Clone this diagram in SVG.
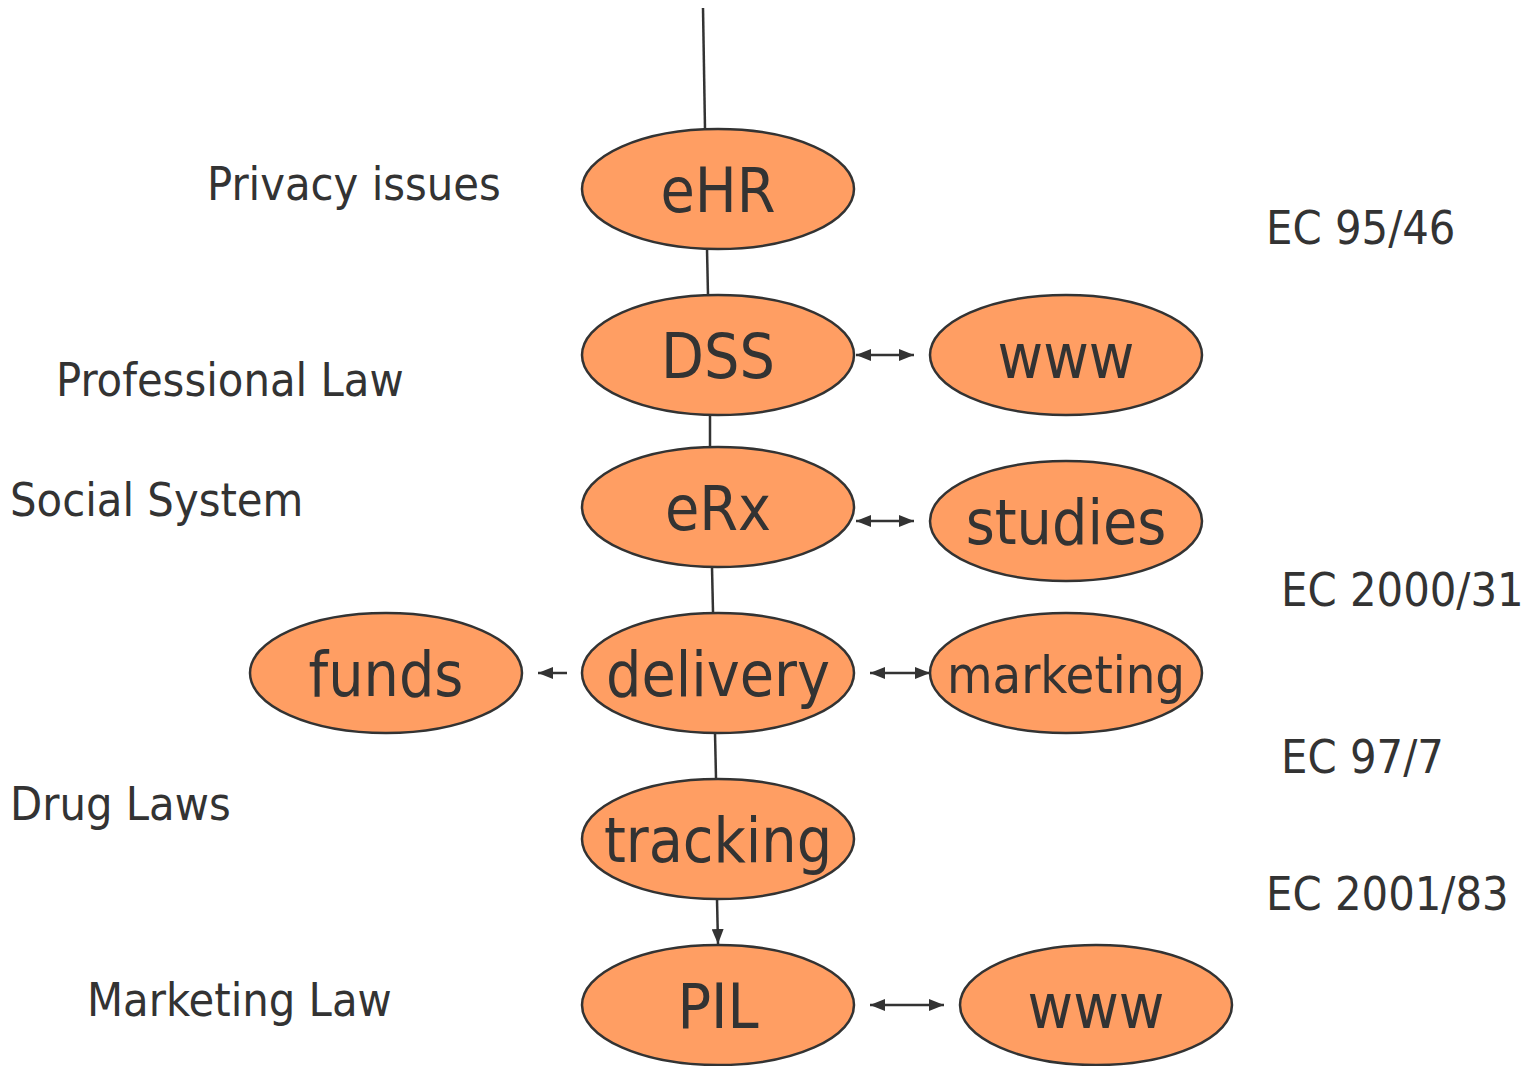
<svg xmlns="http://www.w3.org/2000/svg" width="1540" height="1066" viewBox="0 0 1540 1066">
  <defs>
    <style>
      .node ellipse { fill: #FF9E63; stroke: #333333; stroke-width: 2.5; }
      .node text { font-family: "DejaVu Sans Condensed", "DejaVu Sans", sans-serif; font-size: 62px; fill: #333333; text-anchor: middle; }
      .label { font-family: "DejaVu Sans Condensed", "DejaVu Sans", sans-serif; font-size: 46.5px; fill: #333333; }
      .link { stroke: #333333; stroke-width: 2.5; fill: none; }
    </style>
    <marker id="head" viewBox="0 0 15 12" refX="15" refY="6" markerWidth="15" markerHeight="12" markerUnits="userSpaceOnUse" orient="auto-start-reverse">
      <path d="M0,0 L15,6 L0,12 z" fill="#333333"/>
    </marker>
  </defs>
  <rect width="1540" height="1066" fill="#ffffff"/>

  <!-- side labels -->
  <g id="labels">
    <text class="label" x="207" y="200">Privacy issues</text>
    <text class="label" x="56" y="396">Professional Law</text>
    <text class="label" x="10" y="516">Social System</text>
    <text class="label" x="10" y="820">Drug Laws</text>
    <text class="label" x="87" y="1016">Marketing Law</text>
    <text class="label" x="1266" y="244">EC 95/46</text>
    <text class="label" x="1281" y="606">EC 2000/31</text>
    <text class="label" x="1281" y="773">EC 97/7</text>
    <text class="label" x="1266" y="910">EC 2001/83</text>
  </g>

  <!-- connectors -->
  <g id="connectors">
    <line class="link" x1="703" y1="8" x2="705" y2="129"/>
    <line class="link" x1="707" y1="249" x2="708" y2="295"/>
    <line class="link" x1="710" y1="415" x2="710" y2="447"/>
    <line class="link" x1="712" y1="567" x2="713" y2="612"/>
    <line class="link" x1="715" y1="733" x2="716" y2="778"/>
    <line class="link" x1="717" y1="899" x2="718" y2="944" marker-end="url(#head)"/>
    <line class="link" x1="856" y1="355" x2="914" y2="355" marker-start="url(#head)" marker-end="url(#head)"/>
    <line class="link" x1="856" y1="521" x2="914" y2="521" marker-start="url(#head)" marker-end="url(#head)"/>
    <line class="link" x1="870" y1="673" x2="930" y2="673" marker-start="url(#head)" marker-end="url(#head)"/>
    <line class="link" x1="567" y1="673" x2="538" y2="673" marker-end="url(#head)"/>
    <line class="link" x1="870" y1="1005" x2="944" y2="1005" marker-start="url(#head)" marker-end="url(#head)"/>
  </g>

  <!-- nodes -->
  <g id="ehr" class="node"><ellipse cx="718" cy="189" rx="136" ry="60"/><text x="718" y="212">eHR</text></g>
  <g id="dss" class="node"><ellipse cx="718" cy="355" rx="136" ry="60"/><text x="718" y="378">DSS</text></g>
  <g id="www1" class="node"><ellipse cx="1066" cy="355" rx="136" ry="60"/><text x="1066" y="378">www</text></g>
  <g id="erx" class="node"><ellipse cx="718" cy="507" rx="136" ry="60"/><text x="718" y="530">eRx</text></g>
  <g id="studies" class="node"><ellipse cx="1066" cy="521" rx="136" ry="60"/><text x="1066" y="544">studies</text></g>
  <g id="funds" class="node"><ellipse cx="386" cy="673" rx="136" ry="60"/><text x="386" y="696">funds</text></g>
  <g id="delivery" class="node"><ellipse cx="718" cy="673" rx="136" ry="60"/><text x="718" y="696">delivery</text></g>
  <g id="marketing" class="node"><ellipse cx="1066" cy="673" rx="136" ry="60"/><text x="1066" y="693" style="font-size:52px">marketing</text></g>
  <g id="tracking" class="node"><ellipse cx="718" cy="839" rx="136" ry="60"/><text x="718" y="862">tracking</text></g>
  <g id="pil" class="node"><ellipse cx="718" cy="1005" rx="136" ry="60"/><text x="718" y="1028">PIL</text></g>
  <g id="www2" class="node"><ellipse cx="1096" cy="1005" rx="136" ry="60"/><text x="1096" y="1028">www</text></g>
</svg>
